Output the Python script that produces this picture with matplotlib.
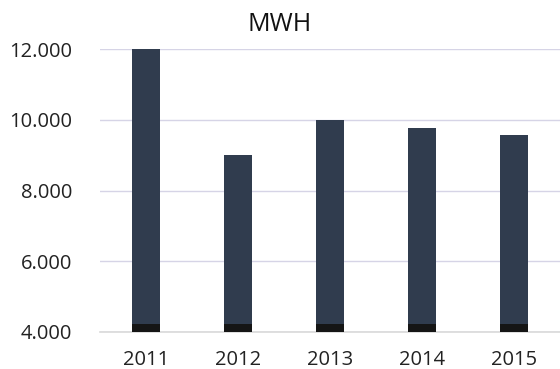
import matplotlib.pyplot as plt
from matplotlib.ticker import FuncFormatter

years = ['2011', '2012', '2013', '2014', '2015']
mwh = [12000, 9000, 10000, 9780, 9570]
y_ticks = [4000, 6000, 8000, 10000, 12000]

bar_color = '#303c4e'
grid_color = '#d6d4e6'
base = 4000

plt.rcParams['font.family'] = ['Open Sans', 'DejaVu Sans']

fig = plt.figure(figsize=(5.6, 3.69), dpi=100)
ax = fig.add_axes([0.1786, 0.1003, 0.8214, 0.7667])

x = range(len(years))
heights = [v - base for v in mwh]
ax.bar(x, heights, bottom=base, width=0.31, color=bar_color, zorder=3)
# dark band at the foot of each bar
ax.bar(x, [220] * len(years), bottom=base, width=0.31, color='#151515', zorder=4)

ax.set_xlim(-0.5, len(years) - 0.5)
ax.set_ylim(4000, 12000)
ax.set_yticks(y_ticks)
ax.yaxis.set_major_formatter(FuncFormatter(lambda v, p: f'{int(v):,}'.replace(',', '.')))
ax.set_xticks(list(x))
ax.set_xticklabels(years)
ax.tick_params(axis='both', length=0, labelsize=14.5, colors='#222222')
ax.tick_params(axis='y', pad=20)
ax.tick_params(axis='x', pad=13)

ax.grid(axis='y', color=grid_color, lw=1, zorder=0)
for side in ['top', 'right', 'left']:
    ax.spines[side].set_visible(False)
ax.spines['bottom'].set_color('#d9d9d9')
ax.spines['bottom'].set_linewidth(1.2)

fig.text(0.5, 0.933, 'MWH', ha='center', va='center', fontsize=18, color='#111111')

fig.savefig('out.png', dpi=100)
